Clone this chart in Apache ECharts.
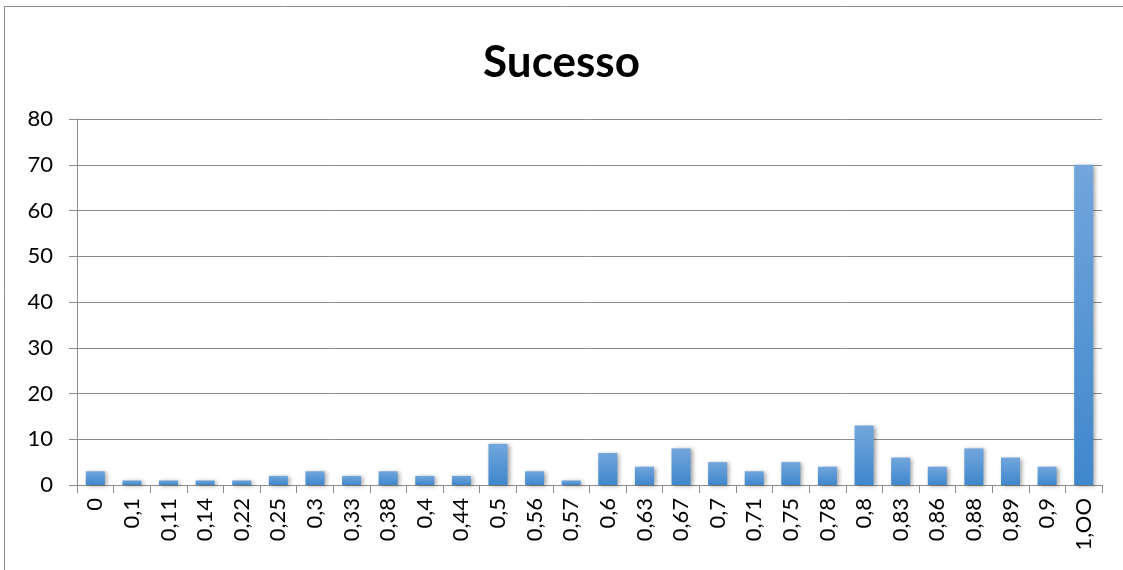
<!DOCTYPE html>
<html><head><meta charset="utf-8">
<script src="https://cdn.jsdelivr.net/npm/echarts@6/dist/echarts.min.js"></script>
<style>html,body{margin:0;padding:0;background:#fff}#c{width:1123px;height:570px}</style>
</head><body><div id="c"></div>
<script>
const categories = ['0','0,1','0,11','0,14','0,22','0,25','0,3','0,33','0,38','0,4','0,44','0,5','0,56','0,57','0,6','0,63','0,67','0,7','0,71','0,75','0,78','0,8','0,83','0,86','0,88','0,89','0,9','1,OO'];
const values = [3,1,1,1,1,2,3,2,3,2,2,9,3,1,7,4,8,5,3,5,4,13,6,4,8,6,4,70];
const yTicks = [0,10,20,30,40,50,60,70,80];
const titleText = 'Sucesso';

const chart = echarts.init(document.getElementById('c'));
const font = 'Lato, "Open Sans", sans-serif';
chart.setOption({
  animation: false,
  graphic: [{type:'rect', shape:{x:4.5,y:6.5,width:1200,height:700}, style:{fill:'none',stroke:'#8c8c8c',lineWidth:1}, silent:true}],
  title: {text: titleText, left: 'center', top: 36, textStyle:{fontFamily:font, fontWeight:'bold', fontSize:44, color:'#000'}},
  grid: {left:77, right:21, top:119, bottom:85},
  xAxis: {type:'category', data: categories,
    axisLine:{lineStyle:{color:'#8c8c8c'}},
    axisTick:{show:true, alignWithLabel:false, length:8, lineStyle:{color:'#8c8c8c'}},
    axisLabel:{rotate:90, interval:0, margin:13, fontFamily:font, fontSize:22, color:'#000'}},
  yAxis: {type:'value', min:yTicks[0], max:yTicks[yTicks.length-1], interval:10,
    axisLine:{show:true, lineStyle:{color:'#8c8c8c'}},
    axisTick:{show:true, length:8, lineStyle:{color:'#8c8c8c'}},
    splitLine:{lineStyle:{color:'#8c8c8c'}},
    axisLabel:{margin:24, fontFamily:font, fontSize:22, color:'#000'}},
  series: [{type:'bar', data: values, barCategoryGap:'48%',
    itemStyle:{color: new echarts.graphic.LinearGradient(0,0,0,1,[{offset:0,color:'#72a6dc'},{offset:1,color:'#3f87cc'}]),
      shadowBlur:4, shadowColor:'rgba(0,0,0,0.35)', shadowOffsetX:2, shadowOffsetY:1}}]
});
</script></body></html>
